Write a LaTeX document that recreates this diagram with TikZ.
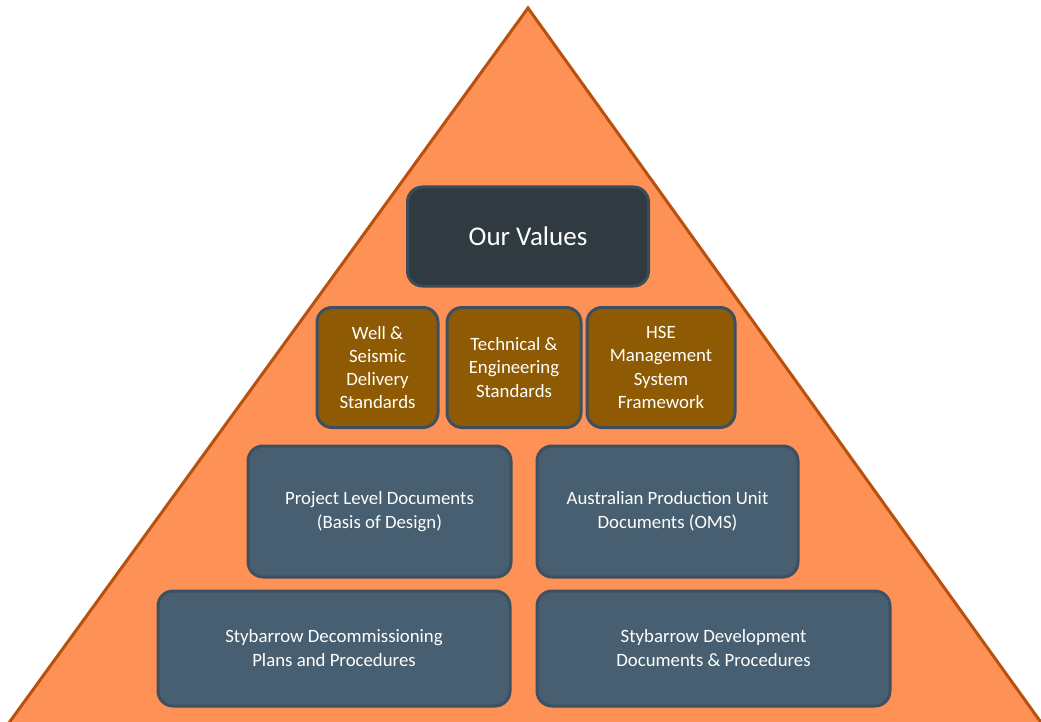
\documentclass[tikz,border=0pt]{standalone}
\usepackage{fontspec}
\setmainfont{Carlito}
\definecolor{triFill}{HTML}{FD9156}
\definecolor{triLine}{HTML}{B9500E}
\definecolor{darkFill}{HTML}{2F3B40}
\definecolor{darkLine}{HTML}{3A4C58}
\definecolor{brownFill}{HTML}{8E5B04}
\definecolor{slateLine}{HTML}{3C5060}
\definecolor{blueFill}{HTML}{475F70}
\begin{document}
\begin{tikzpicture}[x=1pt,y=-1pt,
  box/.style={rectangle, rounded corners=15pt, line width=3pt, text=white, align=center, inner sep=0pt},
  valuesbox/.style={box, fill=darkFill, draw=darkLine, font=\fontsize{27}{32}\selectfont},
  brownbox/.style={box, fill=brownFill, draw=slateLine, font=\fontsize{18.8}{23.3}\selectfont},
  bluebox/.style={box, fill=blueFill, draw=slateLine, font=\fontsize{18.8}{24}\selectfont}]
\useasboundingbox (0,0) rectangle (1041,722);
\begin{scope}
\clip (0,0) rectangle (1041,722);
\draw[fill=triFill, draw=triLine, line width=3pt, line join=miter]
  (528,8) -- (-18,760) -- (1068,760) -- cycle;
\end{scope}
\node[valuesbox, minimum width=241pt, minimum height=99pt] (values) at (528,236.5) {Our Values};
\node[brownbox, minimum width=121pt, minimum height=120pt] (well) at (377.5,367.5) {Well \&\\Seismic\\Delivery\\Standards};
\node[brownbox, minimum width=134pt, minimum height=120pt] (tech) at (514,367.5) {Technical \&\\Engineering\\Standards};
\node[brownbox, minimum width=148pt, minimum height=120pt] (hse) at (661,367.5) {HSE\\Management\\System\\Framework};
\node[bluebox, minimum width=263pt, minimum height=131pt] (proj) at (379.5,511.5) {Project Level Documents\\(Basis of Design)};
\node[bluebox, minimum width=261pt, minimum height=131pt] (apu) at (667.5,511.5) {Australian Production Unit\\Documents (OMS)};
\node[bluebox, minimum width=352pt, minimum height=115pt] (decom) at (334,648.5) {Stybarrow Decommissioning\\Plans and Procedures};
\node[bluebox, minimum width=353pt, minimum height=115pt] (dev) at (713.5,648.5) {Stybarrow Development\\Documents \& Procedures};
\end{tikzpicture}
\end{document}
